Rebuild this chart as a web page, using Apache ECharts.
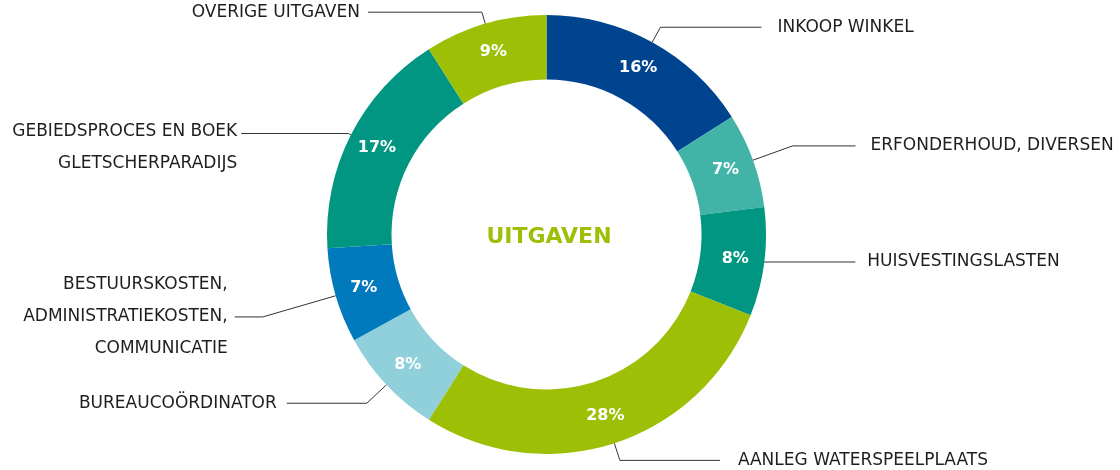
<!DOCTYPE html>
<html>
<head>
<meta charset="utf-8">
<title>Uitgaven</title>
<script src="https://cdn.jsdelivr.net/npm/echarts@6/dist/echarts.min.js"></script>
<style>
    html, body { margin: 0; padding: 0; background: #fff; }
    #chart { width: 1120px; height: 470px; }
</style>
</head>
<body>
<div id="chart"></div>
<script>
    // categorieën, klokwijs vanaf boven
    var categories = [
        'INKOOP WINKEL',
        'ERFONDERHOUD, DIVERSEN',
        'HUISVESTINGSLASTEN',
        'AANLEG WATERSPEELPLAATS',
        'BUREAUCOÖRDINATOR',
        'BESTUURSKOSTEN,\nADMINISTRATIEKOSTEN,\nCOMMUNICATIE',
        'GEBIEDSPROCES EN BOEK\nGLETSCHERPARADIJS',
        'OVERIGE UITGAVEN'
    ];
    // aandeel in procenten
    var shares = [16, 7, 8, 28, 8, 7, 17, 9];

    var colors = ['#00448f', '#42b4a7', '#009681', '#9dbf06', '#8fd0da', '#0079bd', '#009681', '#9dbf06'];

    // lengte van de labellijnen (radiaal, horizontaal) en afstand tot de tekst
    var lineLen = [17, 42, 0, 18, 27, 76, 3, 12];
    var lineLen2 = [101, 63, 91, 100, 80, 28, 107, 114];
    var textGap = [16, 15, 12, 18, 10, 7, 4, 8];
    var textShiftY = [0, 0, 0, 0, 0, 0, 14, 0];

    var fontName = '"DejaVu Sans", sans-serif';

    function buildOuterData() {
        return categories.map(function(name, i) {
            return {
                name: name,
                value: shares[i],
                itemStyle: { color: colors[i] },
                label: {
                    distanceToLabelLine: textGap[i],
                    offset: [0, textShiftY[i]]
                },
                labelLine: { length: lineLen[i], length2: lineLen2[i] }
            };
        });
    }

    function buildInnerData() {
        return categories.map(function(name, i) {
            return { name: name, value: shares[i] };
        });
    }

    var myChart = echarts.init(document.getElementById('chart'));

    var option = {
        animation: false,
        graphic: [{
            type: 'text',
            x: 549,
            y: 237,
            style: {
                text: 'UITGAVEN',
                align: 'center',
                verticalAlign: 'middle',
                fill: '#9dbf06',
                font: 'bold 22px ' + fontName
            }
        }],
        series: [{
            type: 'pie',
            center: [546.5, 234.5],
            radius: [155, 219.5],
            startAngle: 90,
            clockwise: true,
            avoidLabelOverlap: false,
            emphasis: { disabled: true },
            label: {
                show: true,
                position: 'outside',
                formatter: '{b}',
                color: '#1e1e1e',
                fontFamily: fontName,
                fontSize: 17,
                lineHeight: 32
            },
            labelLine: {
                show: true,
                smooth: false,
                lineStyle: { color: '#333', width: 1 }
            },
            data: buildOuterData()
        }, {
            type: 'pie',
            center: [546.5, 234.5],
            radius: [155, 219.5],
            startAngle: 90,
            clockwise: true,
            silent: true,
            emphasis: { disabled: true },
            itemStyle: { color: 'rgba(0,0,0,0)' },
            label: {
                show: true,
                position: 'inside',
                formatter: '{c}%',
                color: '#fff',
                fontFamily: fontName,
                fontWeight: 'bold',
                fontSize: 16
            },
            labelLine: { show: false },
            data: buildInnerData()
        }]
    };

    myChart.setOption(option);
</script>
</body>
</html>
